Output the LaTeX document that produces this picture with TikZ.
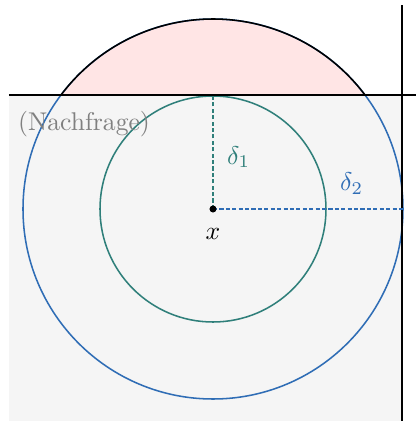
\documentclass[tikz,border=0pt]{standalone}
\usepackage{amsmath}
\usetikzlibrary{positioning}

\definecolor{circblue}{HTML}{2F6DB5}
\definecolor{circteal}{HTML}{2F7F7A}

\tikzset{radius line/.style={dash pattern=on 1.6pt off 0.9pt}}

\begin{document}
\begin{tikzpicture}[x=0.0137cm, y=0.0137cm, >=stealth]

    % --- Configuration ---
    \def\R{190} % outer radius (delta_2)
    \def\r{113} % inner radius (delta_1)
    \def\H{114} % height of the horizontal line
    \pgfmathsetmacro{\phiValue}{asin(\H/\R)}

    \useasboundingbox (-213,-212) rectangle (203,209);

    % --- Regions ---
    \fill[black!4] (-204,-212) rectangle (189,\H);
    \fill[red!10] (\phiValue:\R) arc (\phiValue:180-\phiValue:\R) -- cycle;

    % --- Circles ---
    \draw[circblue, semithick] (0,0) circle (\R);
    \draw[circteal, semithick] (0,0) circle (\r);
    \draw[semithick] (\phiValue:\R) arc (\phiValue:180-\phiValue:\R);

    % --- Axes ---
    \draw[semithick] (-204,\H) -- (203,\H);
    \draw[semithick] (189,-212) -- (189,204);

    % --- Center and radii ---
    \coordinate (x) at (0,0);
    \coordinate (top) at (0,\r);
    \coordinate (rim) at (\R,0);
    \draw[radius line, circteal] (x) -- (top) node[pos=0.46, right=2pt, circteal] (d1) {$\delta_1$};
    \draw[radius line, circblue] (x) -- (rim) node[pos=0.73, above=2pt, circblue] (d2) {$\delta_2$};
    \fill (x) circle (3.5) node[below=4pt] (xl) {$x$};

    % --- Label ---
    \node[gray] (demand) at (-129,85) {(Nachfrage)};

\end{tikzpicture}
\end{document}
